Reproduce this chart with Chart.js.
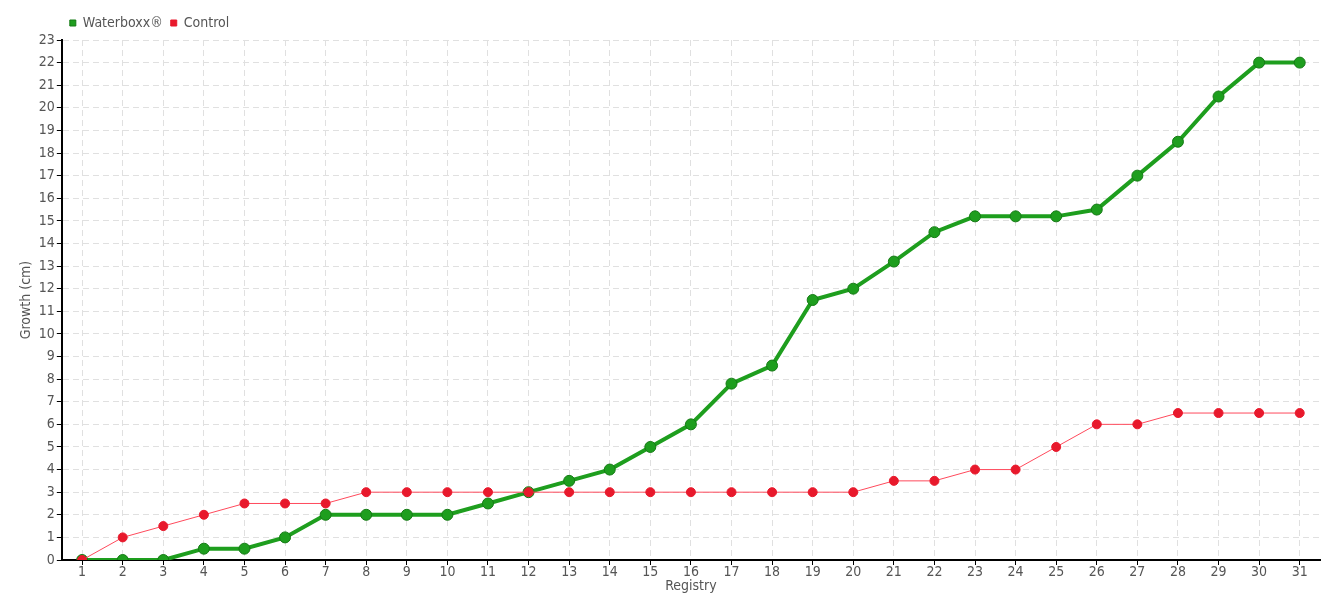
<!DOCTYPE html>
<html>
<head>
<meta charset="utf-8">
<script src="https://cdn.jsdelivr.net/npm/chart.js@4/dist/chart.umd.min.js"></script>
<style>
  html, body { margin: 0; padding: 0; background: #fff; }
  #wrap { width: 1340px; height: 600px; }
</style>
</head>
<body>
<div id="wrap"><canvas id="myChart"></canvas></div>
<script>
const registry = Array.from({ length: 31 }, (_, i) => String(i + 1));
const waterboxx = [0, 0, 0, 0.5, 0.5, 1, 2, 2, 2, 2, 2.5, 3, 3.5, 4, 5, 6, 7.8, 8.6, 11.5, 12, 13.2, 14.5, 15.2, 15.2, 15.2, 15.5, 17, 18.5, 20.5, 22, 22];
const control = [0, 1, 1.5, 2, 2.5, 2.5, 2.5, 3, 3, 3, 3, 3, 3, 3, 3, 3, 3, 3, 3, 3, 3.5, 3.5, 4, 4, 5, 6, 6, 6.5, 6.5, 6.5, 6.5];

Chart.defaults.font.family = "'DejaVu Sans Condensed', 'Liberation Sans Narrow', sans-serif";
Chart.defaults.color = '#555';

const chart = document.getElementById('myChart');
const myChart = new Chart(chart, {
    type: 'line',
    data: {
        labels: registry,
        datasets: [{
            label: 'Waterboxx®',
            data: waterboxx,
            order: 1,
            borderColor: '#1e9e1e',
            backgroundColor: '#1e9e1e',
            borderWidth: 4,
            pointRadius: 5.5,
            pointBackgroundColor: '#1e9e1e',
            pointBorderColor: '#157a15',
            pointBorderWidth: 1,
            tension: 0
        }, {
            label: 'Control',
            data: control,
            order: 0, // red drawn over green
            borderColor: '#ff4a5c',
            backgroundColor: '#e8192c',
            borderWidth: 1,
            pointRadius: 4.5,
            pointBackgroundColor: '#e8192c',
            pointBorderColor: '#e8192c',
            pointBorderWidth: 1,
            tension: 0
        }]
    },
    options: {
        responsive: true,
        maintainAspectRatio: false,
        animation: false,
        layout: { padding: { left: 16, right: 20, top: 8, bottom: 7 } },
        plugins: {
            legend: {
                align: 'start',
                fullSize: false,
                labels: {
                    usePointStyle: true,
                    pointStyle: 'rect',
                    boxWidth: 6,
                    boxHeight: 6,
                    padding: 8,
                    color: '#555',
                    font: { size: 14 },
                    sort: (a, b) => a.datasetIndex - b.datasetIndex
                }
            },
            tooltip: { enabled: false }
        },
        scales: {
            x: {
                offset: true,
                title: { display: true, text: 'Registry', color: '#555', font: { size: 14, lineHeight: 1 }, padding: 0 },
                grid: {
                    color: '#e0e0e0',
                    tickColor: '#000',
                    tickLength: 5
                },
                border: { color: '#000', width: 2, dash: [6, 4] },
                ticks: { color: '#555', font: { size: 14, lineHeight: 1 }, maxRotation: 0, autoSkip: false, padding: 0 }
            },
            y: {
                min: 0,
                max: 23,
                title: { display: true, text: 'Growth (cm)', color: '#555', font: { size: 14 }, padding: 2 },
                grid: {
                    color: '#e0e0e0',
                    tickColor: '#000',
                    tickLength: 5
                },
                border: { color: '#000', width: 2, dash: [6, 4] },
                ticks: { stepSize: 1, color: '#555', font: { size: 14 }, padding: 2 }
            }
        }
    }
});
</script>
</body>
</html>
